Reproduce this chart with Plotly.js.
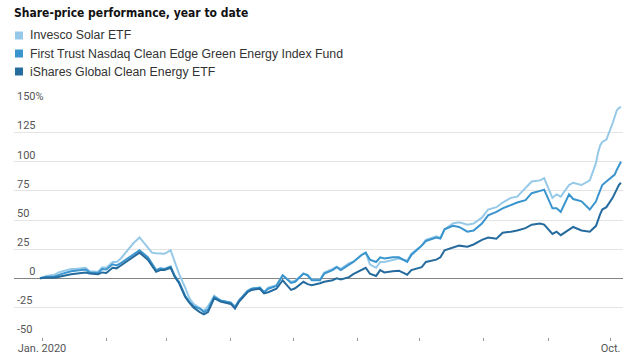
<!DOCTYPE html>
<html>
<head>
<meta charset="utf-8">
<script src="https://cdn.plot.ly/plotly-3.0.1.min.js"></script>
<style>html,body{margin:0;padding:0;background:#fff;}#chart{width:640px;height:355px;}</style>
</head>
<body>
<div id="chart"></div>
<script>
const seriesNames = ["Invesco Solar ETF", "First Trust Nasdaq Clean Edge Green Energy Index Fund", "iShares Global Clean Energy ETF"];
const seriesColors = ["#96c9e8", "#3a94cd", "#266b9d"];

const dates = ["2019-12-31","2020-01-03","2020-01-07","2020-01-09","2020-01-11","2020-01-15","2020-01-17","2020-01-22","2020-01-24","2020-01-28","2020-01-30","2020-02-01",
"2020-02-04","2020-02-06","2020-02-08","2020-02-12","2020-02-14","2020-02-17","2020-02-21","2020-02-23","2020-02-25","2020-02-27","2020-02-29",
"2020-03-03","2020-03-05","2020-03-07","2020-03-10","2020-03-12","2020-03-14","2020-03-17","2020-03-19","2020-03-21","2020-03-24","2020-03-27","2020-04-01",
"2020-04-03","2020-04-05","2020-04-09","2020-04-11","2020-04-15","2020-04-17","2020-04-19","2020-04-23","2020-04-26","2020-04-30","2020-05-02",
"2020-05-06","2020-05-08","2020-05-10","2020-05-14","2020-05-16","2020-05-20","2020-05-22","2020-05-24","2020-05-28","2020-05-30",
"2020-06-03","2020-06-05","2020-06-07","2020-06-10","2020-06-12","2020-06-14","2020-06-18","2020-06-21","2020-06-25","2020-06-27","2020-07-02",
"2020-07-04","2020-07-09","2020-07-11","2020-07-13","2020-07-17","2020-07-20","2020-07-24","2020-07-27","2020-07-31","2020-08-03",
"2020-08-07","2020-08-10","2020-08-14","2020-08-17","2020-08-21","2020-08-24","2020-08-28","2020-08-30","2020-09-03",
"2020-09-05","2020-09-07","2020-09-11","2020-09-13","2020-09-17","2020-09-21","2020-09-24","2020-09-25","2020-09-26","2020-09-27","2020-09-29","2020-10-02","2020-10-03","2020-10-04",
"2020-10-05","2020-10-06"];

const invescoSolar = [0,2,3,5,6,8,8,9,6,5.5,9.5,9,
14,14,17,26,30,35,26,22,21.5,21,21,
24,13,4,-8,-17,-22,-26,-28,-24,-15,-19,-21,
-24,-19,-11,-9,-8,-12,-8,-6,2.6,-3,-2,
4,3,-1,-1,5,8,10,8,13,14,
20,22,12,9,14,14,16,17,15,21,28,
33,36,35,42,47,48,46,47,52,59,
61,65,69,70,77,83,84,86,69,
72,70,80,82,80,84,99,108,114,117,119,133,139,144,
146,147];

const firstTrust = [0,1,1.5,3,4,6,6.5,7.5,5,4.5,8,7.5,
12,11,13,18,20,24,18,13,7,8.6,8,
10,2,-3,-15,-20,-24,-26,-29,-27,-16,-19,-21,
-25,-19,-11,-9,-8,-12,-9,-6.5,2.6,-4,-3,
4,2.6,-1.7,-1.7,4,7,9.5,7,12,14,
20,22,16,14,18,17,18,18,14,20,28,
32,35,34,42,45,44,40,41,47,54,
57,60,63,65,67,73,75,76,60,
60,57,72,68,66,59,66,71,76,80,83,87,89,93,
97,100];

const iSharesGlobal = [0,0.5,0.5,1.5,2,3.5,4,5,4,3.5,5,4.5,
9,8.5,11,16,18,22,16,11,5.5,7,7,
9,1,-4,-16,-21,-25,-29,-31,-29,-17,-20,-22,
-26,-20,-12,-10,-9,-13,-12,-9,-1.7,-10,-8.6,
-3,-5,-6,-4.3,-3,-1.7,0,-1,1,3.5,
7,9,4,2,7,5,6,6.5,3,7,9.5,
14,16,18,24,26,28,27,29,33,35,
34,39,40,41,43,46,47,46,38,
40,37,42,44,41,40,45,51,55,59,61,69,73,77,
80,82];

const yTickVals = [-50,-25,0,25,50,75,100,125,150];
const yTickText = ["-50","-25","\u2007\u20070","25","50","75","100","125","150%"];
const xTickVals = ["2020-01-01","2020-02-01","2020-03-01","2020-04-01","2020-05-01","2020-06-01","2020-07-01","2020-08-01","2020-09-01","2020-10-01"];
const xTickText = ["Jan. 2020","","","","","","","","","Oct."];

const seriesValues = [invescoSolar, firstTrust, iSharesGlobal];

const traces = seriesValues.map((vals, i) => ({
  type: "scatter", mode: "lines", x: dates, y: vals, name: seriesNames[i],
  line: {color: seriesColors[i], width: 2}, showlegend: false, hoverinfo: "skip"
}));

const tickFont = {family: "Roboto, Liberation Sans, sans-serif", size: 11, color: "#555"};

// plot area: left 14, right 623, top 103, bottom 337
const plotTop = 103, plotBottom = 337, plotH = plotBottom - plotTop;
const legendRowsPx = [35.5, 53.5, 71.5];
const annotations = [], shapes = [];
legendRowsPx.forEach((py, i) => {
  const yp = (plotBottom - py) / plotH;
  shapes.push({type: "rect", xref: "paper", yref: "paper", xsizemode: "pixel", ysizemode: "pixel",
    xanchor: 0, yanchor: yp, x0: 1, x1: 9, y0: -4, y1: 4, fillcolor: seriesColors[i], line: {width: 0}});
  annotations.push({xref: "paper", yref: "paper", x: 0, xshift: 14, y: yp, xanchor: "left", yanchor: "middle",
    showarrow: false, text: seriesNames[i], font: {family: "Liberation Sans, Arial, sans-serif", size: 12.3, color: "#333"}});
});

const layout = {
  width: 640, height: 355,
  margin: {l: 14, r: 17, t: plotTop, b: 355 - plotBottom, pad: 0},
  paper_bgcolor: "#fff", plot_bgcolor: "#fff",
  title: {text: "<b>Share-price performance, year to date</b>", xref: "container", yref: "container",
    x: 14/640, xanchor: "left", y: 1 - 13/355, yanchor: "middle",
    font: {family: "DejaVu Sans Condensed, DejaVu Sans, sans-serif", size: 12, color: "#111"}},
  xaxis: {type: "date", range: ["2019-12-18 12:00", "2020-10-07"], tickvals: xTickVals, ticktext: xTickText,
    ticks: "outside", ticklen: 3, tickcolor: "#999", tickwidth: 1, showgrid: false, showline: false, zeroline: false,
    tickfont: tickFont, ticklabeloverflow: "allow", ticklabelstandoff: -2, fixedrange: true},
  yaxis: {range: [-50.4, 150.4], tickvals: yTickVals, ticktext: yTickText, ticks: "",
    ticklabelposition: "inside", ticklabelshift: -7, ticklabeloverflow: "allow", tickfont: tickFont,
    showgrid: true, gridcolor: "#e4e4e4", gridwidth: 1,
    zeroline: true, zerolinecolor: "#858585", zerolinewidth: 1.5, showline: false, fixedrange: true},
  showlegend: false,
  annotations: annotations, shapes: shapes
};

Plotly.newPlot("chart", traces, layout, {displayModeBar: false, staticPlot: true});
</script>
</body>
</html>
